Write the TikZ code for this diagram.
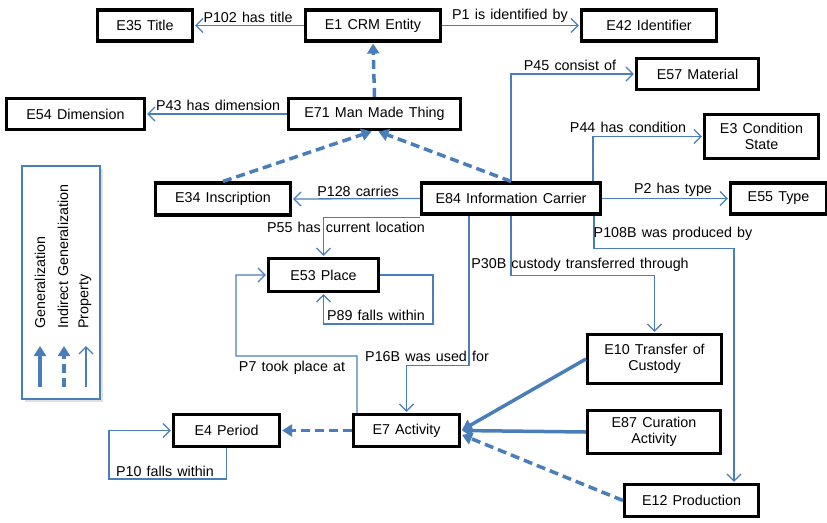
\documentclass[tikz,border=0pt]{standalone}
\usepackage{fontspec}
\setmainfont{Liberation Sans}
\usetikzlibrary{arrows.meta,calc}
\definecolor{linkblue}{RGB}{74,126,187}
\newcommand\diagfont{\fontsize{14.3}{16}\selectfont\spaceskip=0.36em plus 0.1em\relax}
\begin{document}
\begin{tikzpicture}[x=1pt,y=-1pt,
  font=\diagfont,
  ebox/.style={draw=black, line width=3.2pt, fill=white, align=center, inner sep=2pt},
  prop/.style={draw=linkblue, line width=1.3pt, shorten >=1pt,
    -{Straight Barb[length=7pt,width=14pt]}},
  gen/.style={draw=linkblue, line width=3.5pt, shorten >=1pt,
    -{Triangle[length=10pt,width=12pt]}},
  indgen/.style={gen, dash pattern=on 9pt off 5pt},
  lbl/.style={inner sep=1pt},
]
\useasboundingbox (0,0) rectangle (827,522);

% ---------- classes ----------
\node[ebox, minimum width=95pt,  minimum height=31pt] (e35) at (145,25.5)   {E35 Title};
\node[ebox, minimum width=135pt, minimum height=31pt] (e1)  at (373,25.5)   {E1 CRM Entity};
\node[ebox, minimum width=135pt, minimum height=31pt] (e42) at (649,25.5)   {E42 Identifier};
\node[ebox, minimum width=138pt, minimum height=31pt] (e54) at (75.5,114)   {E54 Dimension};
\node[ebox, minimum width=172pt, minimum height=31pt] (e71) at (374.5,114)  {E71 Man Made Thing};
\node[ebox, minimum width=122pt, minimum height=31pt] (e57) at (697.5,74)   {E57 Material};
\node[ebox, minimum width=114pt, minimum height=44pt] (e3)  at (761.5,136.5){E3 Condition\\State};
\node[ebox, minimum width=179pt, minimum height=31pt] (e84) at (511,198.5)  {E84 Information Carrier};
\node[ebox, minimum width=96pt,  minimum height=31pt] (e55) at (778.5,198.5){E55 Type};
\node[ebox, minimum width=135pt, minimum height=32pt] (e34) at (223,199)    {E34 Inscription};
\node[ebox, minimum width=110pt, minimum height=33pt] (e53) at (323.5,275)  {E53 Place};
\node[ebox, minimum width=106pt, minimum height=32pt] (e4)  at (226.5,430.5){E4 Period};
\node[ebox, minimum width=106pt, minimum height=32pt] (e7)  at (406.5,430.5){E7 Activity};
\node[ebox, minimum width=134pt, minimum height=49pt] (e10) at (654.5,359)  {E10 Transfer of\\Custody};
\node[ebox, minimum width=133pt, minimum height=43pt] (e87) at (654,432)    {E87 Curation\\Activity};
\node[ebox, minimum width=134pt, minimum height=32pt] (e12) at (691.5,500.5){E12 Production};

% ---------- properties ----------
\draw[prop] (e1.west) -- (e35.east);
\node[lbl] at (248,17) {P102 has title};
\draw[prop] (e1.east) -- (e42.west);
\node[lbl] at (510,16) {P1 is identified by};
\draw[prop] (e71.west) -- (e54.east);
\node[lbl] at (218,105) {P43 has dimension};
\draw[prop] (e84.north) |- (e57.west);
\node[lbl] at (570,65) {P45 consist of};
\draw[prop] ([xshift=82pt]e84.north) |- (e3.west);
\node[lbl] at (628,127) {P44 has condition};
\draw[prop] (e84.east) -- (e55.west);
\node[lbl] at (673,190) {P2 has type};
\draw[prop] (e84.west) -- (e34.east);
\node[lbl] at (358,191) {P128 carries};
\draw[prop] ([yshift=-2pt]e84.south west) -| (e53.north);
\node[lbl] at (346,227) {P55 has current location};
\draw[prop] (e53.east) -- ([xshift=53pt]e53.east) |- ([yshift=-31pt]e53.south) -- (e53.south);
\node[lbl] at (376,315) {P89 falls within};
\coordinate (p7a) at (357,356);
\coordinate (p7b) at (236,356);
\draw[prop] ([xshift=5pt]e7.north west) -- (p7a) -- (p7b) |- (e53.west);
\node[lbl] at (292,368) {P7 took place at};
\draw[prop] ([xshift=-42pt]e84.south) -- ++(0,150) -| (e7.north);
\node[lbl] at (427,356) {P16B was used for};
\draw[prop] (e84.south) -- ++(0,60) -| (e10.north);
\node[lbl] at (580,265) {P30B custody transferred through};
\draw[prop] ([xshift=83pt]e84.south) -- ++(0,33) -| ([xshift=42.5pt]e12.north);
\node[lbl] at (673,234) {P108B was produced by};
\draw[prop] (e4.south) -- ++(0,31) -| ([xshift=-63pt]e4.west) -- (e4.west);
\node[lbl] at (165,471) {P10 falls within};

% ---------- generalizations ----------
\draw[indgen] (e71.north) -- (e1.south);
\draw[indgen] (e34.north) -- ([xshift=-2pt]e71.south);
\draw[indgen] (e84.north) -- ([xshift=3pt]e71.south);
\draw[gen] (e10.west) -- (e7.east);
\draw[gen] (e87.west) -- (e7.east);
\draw[indgen] (e12.west) -- ([yshift=-4pt]e7.east);
\draw[indgen] (e7.west) -- (e4.east);

% ---------- legend ----------
\fill[black!12] (25,169) rectangle (103,402);
\node[draw=linkblue, line width=1.2pt, fill=white, minimum width=78pt, minimum height=233pt, inner sep=0pt] (legend) at (61,282.5) {};
\node[lbl, rotate=90, anchor=west] (lgen) at (40,330) {Generalization};
\node[lbl, rotate=90, anchor=west] (lind) at (63,330) {Indirect Generalization};
\node[lbl, rotate=90, anchor=west] (lprop) at (85,330) {Property};
\coordinate (ga) at (40,387);  \coordinate (gb) at (40,345);
\coordinate (ia) at (64,387);  \coordinate (ib) at (64,345);
\coordinate (pa) at (86,387);  \coordinate (pb) at (86,345);
\draw[gen] (ga) -- (gb);
\draw[indgen] (ia) -- (ib);
\draw[prop] (pa) -- (pb);
\end{tikzpicture}
\end{document}
